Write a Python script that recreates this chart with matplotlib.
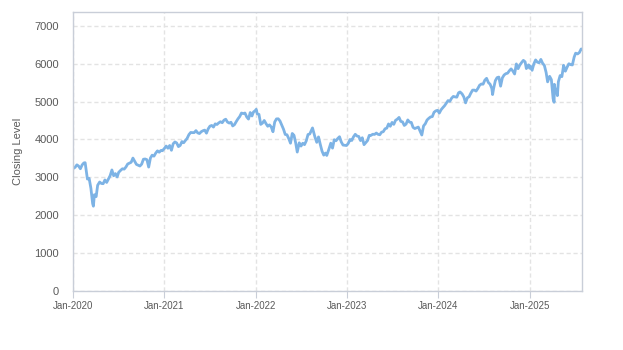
import matplotlib
matplotlib.use("Agg")
import matplotlib.pyplot as plt
import pandas as pd

plt.rcParams['font.family'] = ['Liberation Sans', 'DejaVu Sans']

# Weekly closing levels of the index
dates_2020 = ["2020-01-03", "2020-01-10", "2020-01-17", "2020-01-24", "2020-01-31", "2020-02-07",
              "2020-02-14", "2020-02-19", "2020-02-28", "2020-03-06", "2020-03-13", "2020-03-20",
              "2020-03-23", "2020-03-27", "2020-04-03", "2020-04-09", "2020-04-17", "2020-04-24",
              "2020-05-01", "2020-05-08", "2020-05-15", "2020-05-22", "2020-05-29", "2020-06-05",
              "2020-06-12", "2020-06-19", "2020-06-26", "2020-07-02", "2020-07-10", "2020-07-17",
              "2020-07-24", "2020-07-31", "2020-08-07", "2020-08-14", "2020-08-21", "2020-08-28",
              "2020-09-04", "2020-09-11", "2020-09-18", "2020-09-25", "2020-10-02", "2020-10-09",
              "2020-10-16", "2020-10-23", "2020-10-30", "2020-11-06", "2020-11-13", "2020-11-20",
              "2020-11-27", "2020-12-04", "2020-12-11", "2020-12-18", "2020-12-24", "2020-12-31"]
close_2020 = [3235, 3265, 3330, 3295, 3226, 3328,
              3380, 3386, 2954, 2972, 2711, 2305,
              2237, 2541, 2489, 2790, 2875, 2837,
              2831, 2930, 2864, 2955, 3044, 3194,
              3041, 3098, 3009, 3130, 3185, 3225,
              3216, 3271, 3351, 3373, 3397, 3508,
              3427, 3341, 3319, 3298, 3348, 3477,
              3484, 3465, 3270, 3510, 3585, 3558,
              3638, 3699, 3663, 3709, 3703, 3756]

dates_2021 = ["2021-01-08", "2021-01-15", "2021-01-22", "2021-01-29", "2021-02-05", "2021-02-12",
              "2021-02-19", "2021-02-26", "2021-03-05", "2021-03-12", "2021-03-19", "2021-03-26",
              "2021-04-01", "2021-04-09", "2021-04-16", "2021-04-23", "2021-04-30", "2021-05-07",
              "2021-05-14", "2021-05-21", "2021-05-28", "2021-06-04", "2021-06-11", "2021-06-18",
              "2021-06-25", "2021-07-02", "2021-07-09", "2021-07-16", "2021-07-23", "2021-07-30",
              "2021-08-06", "2021-08-13", "2021-08-20", "2021-08-27", "2021-09-03", "2021-09-10",
              "2021-09-17", "2021-09-24", "2021-10-01", "2021-10-08", "2021-10-15", "2021-10-22",
              "2021-10-29", "2021-11-05", "2021-11-12", "2021-11-19", "2021-11-26", "2021-12-03",
              "2021-12-10", "2021-12-17", "2021-12-23", "2021-12-31"]
close_2021 = [3825, 3768, 3841, 3714, 3887, 3934,
              3907, 3811, 3842, 3943, 3913, 3975,
              4020, 4129, 4185, 4180, 4181, 4233,
              4174, 4156, 4204, 4230, 4247, 4166,
              4281, 4352, 4370, 4327, 4412, 4395,
              4437, 4468, 4442, 4509, 4535, 4459,
              4433, 4455, 4357, 4391, 4471, 4545,
              4605, 4698, 4683, 4698, 4595, 4538,
              4712, 4620, 4726, 4766]

dates_2022 = ["2022-01-03", "2022-01-07", "2022-01-14", "2022-01-21", "2022-01-28", "2022-02-04",
              "2022-02-11", "2022-02-18", "2022-02-25", "2022-03-04", "2022-03-11", "2022-03-18",
              "2022-03-25", "2022-04-01", "2022-04-08", "2022-04-14", "2022-04-22", "2022-04-29",
              "2022-05-06", "2022-05-13", "2022-05-20", "2022-05-27", "2022-06-03", "2022-06-10",
              "2022-06-16", "2022-06-24", "2022-07-01", "2022-07-08", "2022-07-15", "2022-07-22",
              "2022-07-29", "2022-08-05", "2022-08-16", "2022-08-19", "2022-08-26", "2022-09-02",
              "2022-09-09", "2022-09-16", "2022-09-23", "2022-09-30", "2022-10-07", "2022-10-12",
              "2022-10-21", "2022-10-28", "2022-11-04", "2022-11-11", "2022-11-18", "2022-11-25",
              "2022-12-02", "2022-12-09", "2022-12-16", "2022-12-23", "2022-12-30"]
close_2022 = [4797, 4677, 4662, 4398, 4432, 4501,
              4419, 4349, 4385, 4329, 4204, 4463,
              4543, 4546, 4488, 4393, 4272, 4132,
              4123, 4024, 3901, 4158, 4109, 3901,
              3667, 3912, 3825, 3899, 3863, 3962,
              4130, 4145, 4305, 4228, 4058, 3924,
              4067, 3873, 3693, 3586, 3640, 3577,
              3753, 3901, 3771, 3993, 3965, 4026,
              4072, 3934, 3852, 3845, 3840]

dates_2023 = ["2023-01-06", "2023-01-13", "2023-01-20", "2023-01-27", "2023-02-03", "2023-02-10",
              "2023-02-17", "2023-02-24", "2023-03-03", "2023-03-10", "2023-03-17", "2023-03-24",
              "2023-03-31", "2023-04-06", "2023-04-14", "2023-04-21", "2023-04-28", "2023-05-05",
              "2023-05-12", "2023-05-19", "2023-05-26", "2023-06-02", "2023-06-09", "2023-06-16",
              "2023-06-23", "2023-06-30", "2023-07-07", "2023-07-14", "2023-07-21", "2023-07-28",
              "2023-08-04", "2023-08-11", "2023-08-18", "2023-08-25", "2023-09-01", "2023-09-08",
              "2023-09-15", "2023-09-22", "2023-09-29", "2023-10-06", "2023-10-13", "2023-10-20",
              "2023-10-27", "2023-11-03", "2023-11-10", "2023-11-17", "2023-11-24", "2023-12-01",
              "2023-12-08", "2023-12-15", "2023-12-22", "2023-12-29"]
close_2023 = [3895, 3999, 3973, 4071, 4136, 4090,
              4079, 3970, 4046, 3862, 3917, 3971,
              4109, 4105, 4138, 4133, 4169, 4136,
              4124, 4192, 4205, 4282, 4299, 4410,
              4348, 4450, 4399, 4505, 4536, 4582,
              4478, 4464, 4370, 4406, 4516, 4457,
              4450, 4320, 4288, 4309, 4327, 4224,
              4117, 4358, 4415, 4514, 4559, 4595,
              4604, 4719, 4755, 4770]

dates_2024 = ["2024-01-05", "2024-01-12", "2024-01-19", "2024-01-26", "2024-02-02", "2024-02-09",
              "2024-02-16", "2024-02-23", "2024-03-01", "2024-03-08", "2024-03-15", "2024-03-22",
              "2024-03-28", "2024-04-05", "2024-04-12", "2024-04-19", "2024-04-26", "2024-05-03",
              "2024-05-10", "2024-05-17", "2024-05-24", "2024-05-31", "2024-06-07", "2024-06-14",
              "2024-06-21", "2024-06-28", "2024-07-05", "2024-07-12", "2024-07-19", "2024-07-26",
              "2024-08-02", "2024-08-05", "2024-08-09", "2024-08-16", "2024-08-23", "2024-08-30",
              "2024-09-06", "2024-09-13", "2024-09-20", "2024-09-27", "2024-10-04", "2024-10-11",
              "2024-10-18", "2024-10-25", "2024-11-01", "2024-11-08", "2024-11-15", "2024-11-22",
              "2024-11-29", "2024-12-06", "2024-12-13", "2024-12-18", "2024-12-27", "2024-12-31"]
close_2024 = [4697, 4784, 4840, 4891, 4959, 5027,
              5006, 5089, 5137, 5124, 5117, 5234,
              5254, 5204, 5123, 4967, 5100, 5128,
              5223, 5303, 5305, 5278, 5347, 5432,
              5465, 5460, 5567, 5615, 5505, 5459,
              5346, 5186, 5344, 5554, 5634, 5648,
              5408, 5626, 5703, 5738, 5751, 5815,
              5864, 5808, 5729, 5995, 5870, 5969,
              6032, 6090, 6051, 5872, 5971, 5882]

dates_2025 = ["2025-01-03", "2025-01-10", "2025-01-17", "2025-01-24", "2025-01-31", "2025-02-07",
              "2025-02-14", "2025-02-21", "2025-02-28", "2025-03-07", "2025-03-13", "2025-03-21",
              "2025-03-28", "2025-04-04", "2025-04-08", "2025-04-09", "2025-04-11", "2025-04-17",
              "2025-04-21", "2025-04-25", "2025-05-02", "2025-05-09", "2025-05-16", "2025-05-23",
              "2025-05-30", "2025-06-06", "2025-06-13", "2025-06-20", "2025-06-27", "2025-07-03",
              "2025-07-11", "2025-07-18", "2025-07-25", "2025-07-28"]
close_2025 = [5942, 5827, 5997, 6101, 6041, 6026,
              6115, 6013, 5955, 5770, 5522, 5668,
              5581, 5074, 4983, 5457, 5363, 5283,
              5158, 5525, 5687, 5660, 5958, 5803,
              5912, 6000, 5977, 5968, 6173, 6280,
              6260, 6297, 6389, 6390]

dates = pd.to_datetime(dates_2020 + dates_2021 + dates_2022 + dates_2023 + dates_2024 + dates_2025)
closes = close_2020 + close_2021 + close_2022 + close_2023 + close_2024 + close_2025

y_ticks = [0, 1000, 2000, 3000, 4000, 5000, 6000, 7000]
x_tick_labels = ["Jan-2020", "Jan-2021", "Jan-2022", "Jan-2023", "Jan-2024", "Jan-2025"]

fig = plt.figure(figsize=(6.23, 3.5), dpi=100)
ax = fig.add_axes([0.117, 0.169, 0.817, 0.797])

ax.plot(dates, closes, color="#7db3e5", linewidth=2.0, solid_joinstyle="round")

ax.set_xlim(pd.Timestamp("2020-01-01"), dates[-1])
ax.set_ylim(0, 7370)
ax.set_yticks(y_ticks)
ax.set_yticklabels([str(v) for v in y_ticks])
ax.set_xticks(pd.to_datetime([lbl.replace("Jan-", "") + "-01-01" for lbl in x_tick_labels]))
ax.set_xticklabels(x_tick_labels)

ax.grid(True, color="#e3e3e3", linestyle=(0, (3, 2)), linewidth=1.0)
ax.set_axisbelow(True)
for side in ["left", "bottom", "top", "right"]:
    ax.spines[side].set_color("#c9ced8")
    ax.spines[side].set_linewidth(1.0)

ax.tick_params(axis="x", length=5, color="#c9ced8", labelsize=7, labelcolor="#5a5a5a", pad=2)
ax.tick_params(axis="y", length=0, labelsize=8, labelcolor="#5a5a5a", pad=10)
ax.set_ylabel("Closing Level", fontsize=8, color="#5a5a5a", labelpad=8)

fig.savefig("out.png", dpi=100)
